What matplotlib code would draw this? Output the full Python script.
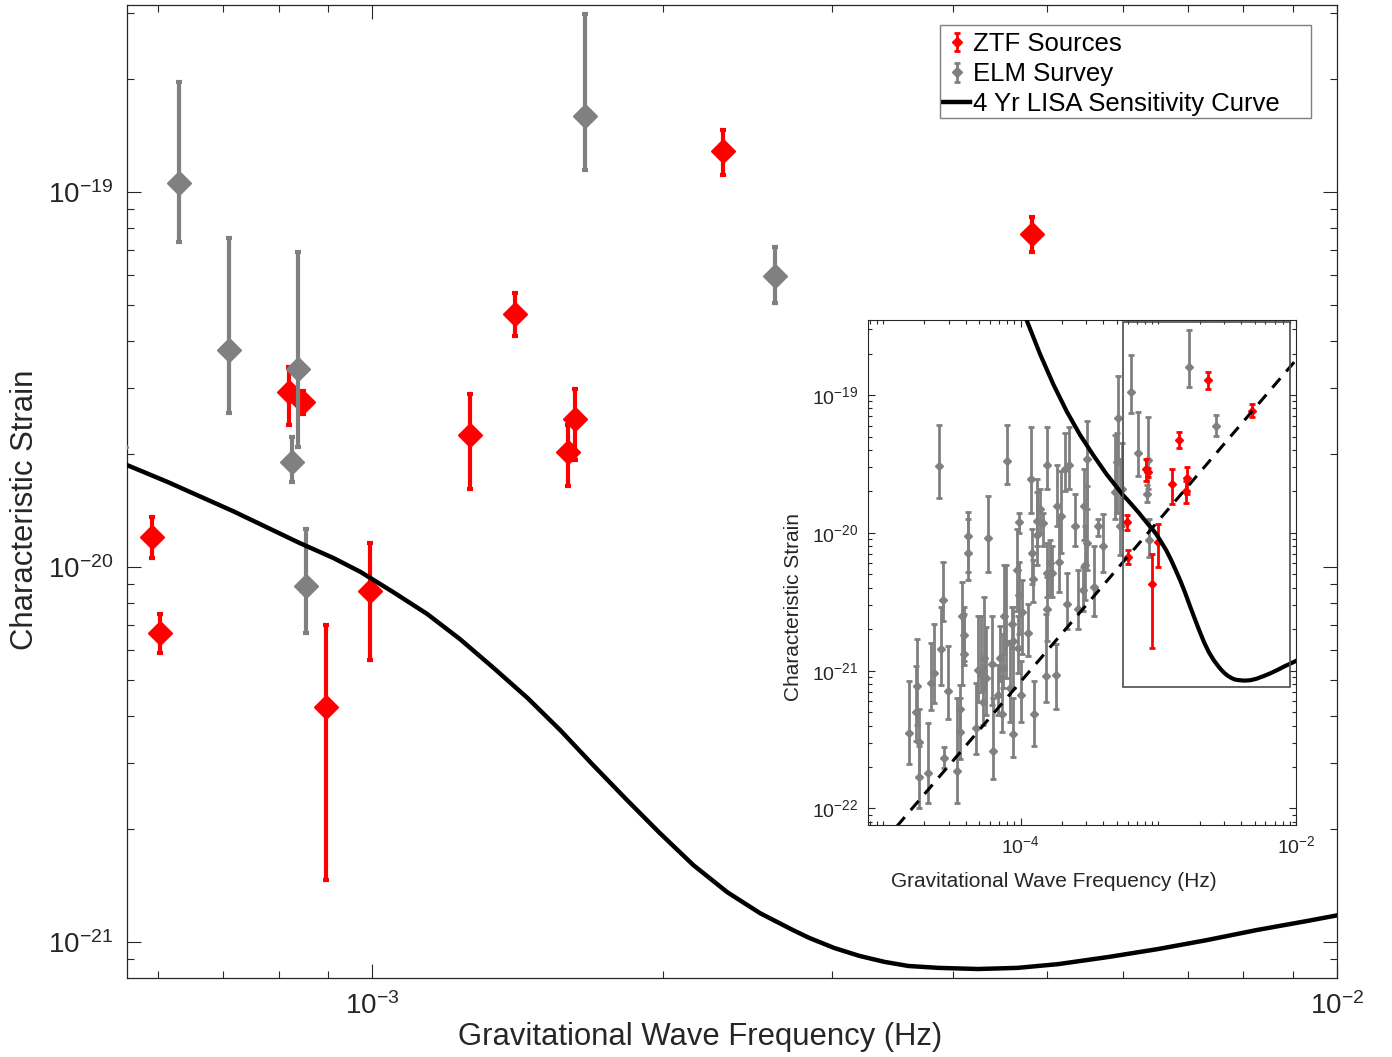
import numpy as np
import matplotlib
matplotlib.use('Agg')
import matplotlib.pyplot as plt
from matplotlib.ticker import FixedLocator, NullFormatter, FuncFormatter, LogLocator
from matplotlib.patches import Rectangle
from matplotlib.lines import Line2D
from matplotlib.legend_handler import HandlerErrorbar

plt.rcParams['font.family'] = ['Liberation Sans', 'DejaVu Sans']
plt.rcParams['mathtext.fontset'] = 'custom'
plt.rcParams['mathtext.rm'] = 'Liberation Sans'
plt.rcParams['mathtext.it'] = 'Liberation Sans:italic'
plt.rcParams['mathtext.bf'] = 'Liberation Sans:bold'

# ---------------- data (log10 values) ----------------
# ZTF sources: log10 frequency (Hz), log10 strain, upper / lower error ends
ztf_logf = [-3.228, -3.220, -3.086, -3.072, -3.048, -3.002, -2.899, -2.852, -2.797, -2.790, -2.636, -2.316]
ztf_logh = [-19.920, -20.176, -19.533, -19.560, -20.373, -20.064, -19.648, -19.325, -19.693, -19.605, -18.891, -19.112]
ztf_logh_hi = [-19.867, -20.125, -19.467, -19.531, -20.155, -19.936, -19.539, -19.269, -19.621, -19.525, -18.835, -19.067]
ztf_logh_lo = [-19.976, -20.229, -19.621, -19.592, -20.835, -20.248, -19.792, -19.384, -19.784, -19.715, -18.955, -19.160]

# ELM survey
elm_logf = [-4.812, -4.752, -4.756, -4.737, -4.737, -4.672, -4.647, -4.630, -4.579, -4.562,
            -4.555, -4.526, -4.465, -4.441, -4.429, -4.412, -4.410, -4.381, -4.385, -4.325,
            -4.308, -4.284, -4.267, -4.252, -4.235, -4.204, -4.199, -4.150, -4.138, -4.121,
            -4.109, -4.102, -4.078, -4.053, -4.053, -4.029, -4.010, -4.010, -3.993, -3.998,
            -3.944, -3.925, -3.915, -3.913, -3.903, -3.884, -3.879, -3.835, -3.816, -3.811,
            -3.806, -3.806, -3.787, -3.743, -3.738, -3.721, -3.707, -3.678, -3.665, -3.646,
            -3.602, -3.581, -3.544, -3.539, -3.532, -3.520, -3.520, -3.464, -3.435, -3.404,
            -3.314, -3.302, -3.295, -3.278, -3.265, -4.596, -4.126, -4.065, -4.017, -4.162,
            -4.272, -4.441, -3.859, -3.775,
            -3.200, -3.148, -3.083, -3.077, -3.068, -2.779, -2.582]
elm_logh = [-21.453, -21.108, -21.299, -21.520, -21.770, -21.745, -21.091, -21.017, -20.846, -20.490,
            -21.637, -21.147, -21.728, -21.446, -20.600, -20.882, -20.740, -20.025, -20.147, -21.417,
            -20.993, -21.029, -20.907, -21.054, -20.037, -20.949, -21.581, -20.907, -21.311, -20.600,
            -20.797, -19.480, -21.127, -21.458, -20.784, -20.270, -19.922, -20.453, -20.576, -21.176,
            -20.723, -19.608, -20.147, -20.338, -21.311, -20.012, -19.914, -19.926, -21.042, -19.510,
            -20.294, -20.551, -20.221, -21.029, -19.804, -20.208, -19.877, -19.534, -20.515, -19.510,
            -19.951, -20.551, -20.417, -19.804, -20.233, -19.461, -20.074, -20.392, -19.951, -20.098,
            -19.706, -19.485, -19.167, -19.951, -19.681, -19.517, -20.980, -20.662, -20.833, -21.176,
            -21.225, -21.275, -19.828, -20.294,
            -18.976, -19.421, -19.720, -19.472, -20.051, -18.797, -19.224]
elm_logh_hi = [-21.078, -20.772, -20.968, -21.275, -21.544, -21.377, -20.797, -20.662, -20.539, -20.208,
               -21.556, -20.821, -21.201, -21.201, -20.355, -20.588, -20.539, -19.848, -19.902, -21.091,
               -20.600, -20.600, -20.466, -20.686, -19.735, -20.600, -21.201, -20.674, -21.042, -20.233,
               -20.233, -19.216, -20.784, -21.201, -20.539, -19.975, -19.853, -20.208, -20.343, -20.931,
               -20.515, -19.228, -19.975, -20.196, -21.078, -19.706, -19.608, -19.853, -20.588, -19.228,
               -20.074, -20.319, -20.049, -20.809, -19.510, -19.877, -19.547, -19.277, -20.294, -19.228,
               -19.718, -20.270, -20.245, -19.534, -19.951, -19.191, -19.657, -20.098, -19.902, -19.865,
               -19.289, -19.277, -18.860, -19.461, -19.350, -19.216, -20.735, -20.539, -20.600, -20.956,
               -20.956, -21.103, -19.681, -20.098,
               -18.707, -19.123, -19.653, -19.160, -19.899, -18.525, -19.147]
elm_logh_lo = [-21.679, -21.397, -21.507, -21.777, -21.998, -21.961, -21.287, -21.238, -21.103, -20.637,
               -21.703, -21.348, -21.961, -21.642, -21.103, -20.956, -20.931, -20.282, -20.343, -21.605,
               -21.225, -21.152, -21.140, -21.324, -20.282, -21.250, -21.789, -21.078, -21.446, -20.882,
               -21.054, -19.645, -21.373, -21.630, -21.127, -20.564, -20.000, -20.735, -20.882, -21.373,
               -20.895, -19.853, -20.368, -20.502, -21.544, -20.233, -20.098, -20.098, -21.225, -19.681,
               -20.466, -20.784, -20.453, -21.275, -19.951, -20.429, -20.147, -19.694, -20.699, -19.681,
               -20.098, -20.699, -20.564, -20.049, -20.490, -19.828, -20.270, -20.600, -20.025, -20.282,
               -19.902, -19.853, -19.461, -20.159, -19.951, -19.743, -21.127, -20.833, -21.017, -21.324,
               -21.397, -21.446, -20.000, -20.466,
               -19.133, -19.589, -19.773, -19.680, -20.176, -18.941, -19.296]

# 4 yr LISA sensitivity curve (characteristic strain)
lisa_logf = [-4.000, -3.956, -3.859, -3.762, -3.665, -3.568, -3.472, -3.375, -3.254, -3.212,
             -3.144, -3.075, -3.040, -3.012, -2.978, -2.943, -2.909, -2.875, -2.839, -2.805,
             -2.771, -2.736, -2.702, -2.667, -2.632, -2.598, -2.564, -2.547, -2.521, -2.495,
             -2.469, -2.444, -2.413, -2.372, -2.331, -2.289, -2.237, -2.186, -2.135, -2.083,
             -2.031, -2.000]
lisa_logh = [-18.342, -18.456, -18.701, -18.922, -19.118, -19.289, -19.436, -19.575, -19.728, -19.773,
             -19.851, -19.936, -19.976, -20.013, -20.067, -20.125, -20.192, -20.267, -20.349, -20.435,
             -20.528, -20.621, -20.709, -20.795, -20.867, -20.923, -20.968, -20.989, -21.016, -21.037,
             -21.053, -21.064, -21.069, -21.072, -21.069, -21.059, -21.040, -21.019, -20.995, -20.968,
             -20.944, -20.929]

# dashed reference line in inset (endpoints)
dash_logf = [-5.0, -2.0]
dash_logh = [-22.248, -18.745]

# zoom rectangle in inset
rect_logf = [-3.253, -2.041]
rect_logh = [-21.120, -18.468]

labels = ['ZTF Sources', 'ELM Survey', '4 Yr LISA Sensitivity Curve']

# ---------------- conversions ----------------
def p10(a):
    return 10.0 ** np.asarray(a, dtype=float)

zf, zh, zhi, zlo = p10(ztf_logf), p10(ztf_logh), p10(ztf_logh_hi), p10(ztf_logh_lo)
ef, eh, ehi, elo = p10(elm_logf), p10(elm_logh), p10(elm_logh_hi), p10(elm_logh_lo)
lf, lh = p10(lisa_logf), p10(lisa_logh)

RED = (1.0, 0.0, 0.0)
GRAY = (0.5, 0.5, 0.5)
AXC = '#262626'

W, H = 1392, 1057
fig = plt.figure(figsize=(W / 100, H / 100), dpi=100)

def fmt(v, pos):
    e = int(round(np.log10(v)))
    return r'$\mathregular{10^{%d}}$' % e

# ---------------- main axes ----------------
ax = fig.add_axes([127 / W, 1 - 978 / H, (1337 - 127) / W, (978 - 5) / H])
ax.set_xscale('log')
ax.set_yscale('log')

h_ztf = ax.errorbar(zf, zh, yerr=[zh - zlo, zhi - zh], fmt='D', color=RED, ecolor=RED,
                    ms=12, elinewidth=3, capsize=2.5, capthick=3, zorder=3)
h_elm = ax.errorbar(ef, eh, yerr=[eh - elo, ehi - eh], fmt='D', color=GRAY, ecolor=GRAY,
                    ms=12, elinewidth=3, capsize=2.5, capthick=3, zorder=4)
h_lisa, = ax.plot(lf, lh, color='black', lw=3.2, zorder=5, solid_joinstyle='round')

ax.set_xlim(10 ** -3.254, 10 ** -2.0)
ax.set_ylim(10 ** -21.096, 10 ** -18.501)

ax.xaxis.set_major_locator(FixedLocator([1e-3, 1e-2]))
ax.xaxis.set_minor_locator(LogLocator(base=10, subs=np.arange(2, 10), numticks=30))
ax.yaxis.set_major_locator(FixedLocator([1e-21, 1e-20, 1e-19]))
ax.yaxis.set_minor_locator(LogLocator(base=10, subs=np.arange(2, 10), numticks=30))
ax.xaxis.set_major_formatter(FuncFormatter(fmt))
ax.yaxis.set_major_formatter(FuncFormatter(fmt))
ax.xaxis.set_minor_formatter(NullFormatter())
ax.yaxis.set_minor_formatter(NullFormatter())
ax.tick_params(which='both', direction='in', top=True, right=True, colors=AXC, labelcolor='#262626')
ax.tick_params(which='major', length=10, width=0.8, labelsize=20, pad=10)
ax.tick_params(which='minor', length=5, width=0.8)
for s in ax.spines.values():
    s.set_color(AXC)
    s.set_linewidth(0.9)

ax.set_xlabel('Gravitational Wave Frequency (Hz)', fontsize=22.3, color='#262626')
ax.set_ylabel('Characteristic Strain', fontsize=22.3, color='#262626')
ax.xaxis.set_label_coords(0.4736, -0.0606)
ax.xaxis.label.set_va('center')
ax.yaxis.set_label_coords(-0.0843, 0.481)
ax.yaxis.label.set_va('center')

def upd(legend_artist, orig):
    legend_artist.update_from(orig)
    if isinstance(legend_artist, Line2D):
        if legend_artist.get_marker() == 'D':
            legend_artist.set_markersize(5)
        elif legend_artist.get_marker() == '_':
            legend_artist.set_markersize(5)
            legend_artist.set_markeredgewidth(2)
    else:
        legend_artist.set_linewidth(2)

leg = ax.legend([h_ztf, h_elm, h_lisa], labels, loc='upper left',
                bbox_to_anchor=(940 / W, 1 - 29 / H), bbox_transform=fig.transFigure,
                frameon=False, fontsize=18.5,
                handlelength=1.05, handletextpad=0.12, borderpad=0.12, labelspacing=0.24,
                borderaxespad=0,
                handler_map={type(h_ztf): HandlerErrorbar(update_func=upd, yerr_size=0.36)})
fig.patches.append(Rectangle((940 / W, 1 - 118 / H), (1311 - 940) / W, (118 - 25) / H,
                             transform=fig.transFigure, fill=False, edgecolor='#7f7f7f',
                             lw=1.0, zorder=20))

# ---------------- inset ----------------
ax2 = fig.add_axes([868 / W, 1 - 825 / H, (1296 - 868) / W, (825 - 319.5) / H])
ax2.set_zorder(10)
ax2.set_facecolor('white')
ax2.set_xscale('log')
ax2.set_yscale('log')

ax2.errorbar(ef, eh, yerr=[eh - elo, ehi - eh], fmt='D', color=GRAY, ecolor=GRAY,
             ms=4.5, elinewidth=2, capsize=2.2, capthick=2, zorder=3)
ax2.errorbar(zf, zh, yerr=[zh - zlo, zhi - zh], fmt='D', color=RED, ecolor=RED,
             ms=4.5, elinewidth=2, capsize=2.2, capthick=2, zorder=4)
ax2.plot(lf, lh, color='black', lw=3, zorder=5, solid_joinstyle='round')
ax2.plot(p10(dash_logf), p10(dash_logh), color='black', lw=2.2, ls=(0, (4, 3)), zorder=5)
rf, rh = p10(rect_logf), p10(rect_logh)
ax2.add_patch(Rectangle((rf[0], rh[0]), rf[1] - rf[0], rh[1] - rh[0], fill=False,
                        edgecolor='#4d4d4d', lw=1.2, zorder=6))

ax2.set_xlim(10 ** -5.108, 10 ** -2.0)
ax2.set_ylim(10 ** -22.12, 10 ** -18.451)
ax2.xaxis.set_major_locator(FixedLocator([1e-4, 1e-2]))
ax2.xaxis.set_minor_locator(LogLocator(base=10, subs=np.arange(1, 10), numticks=30))
ax2.yaxis.set_major_locator(FixedLocator([1e-22, 1e-21, 1e-20, 1e-19]))
ax2.yaxis.set_minor_locator(LogLocator(base=10, subs=np.arange(2, 10), numticks=30))
ax2.xaxis.set_major_formatter(FuncFormatter(fmt))
ax2.yaxis.set_major_formatter(FuncFormatter(fmt))
ax2.xaxis.set_minor_formatter(NullFormatter())
ax2.yaxis.set_minor_formatter(NullFormatter())
ax2.tick_params(which='both', direction='in', top=True, right=True, colors=AXC, labelcolor='#262626')
ax2.tick_params(which='major', length=5, width=0.8, labelsize=14, pad=7)
ax2.tick_params(which='minor', length=3, width=0.8)
for s in ax2.spines.values():
    s.set_color(AXC)
    s.set_linewidth(0.8)
ax2.set_xlabel('Gravitational Wave Frequency (Hz)', fontsize=15, color='#262626')
ax2.set_ylabel('Characteristic Strain', fontsize=15, color='#262626')
ax2.xaxis.set_label_coords(0.4346, -0.1118)
ax2.xaxis.label.set_va('center')
ax2.yaxis.set_label_coords(-0.1752, 0.4313)
ax2.yaxis.label.set_va('center')

fig.savefig('out.png', dpi=100)
